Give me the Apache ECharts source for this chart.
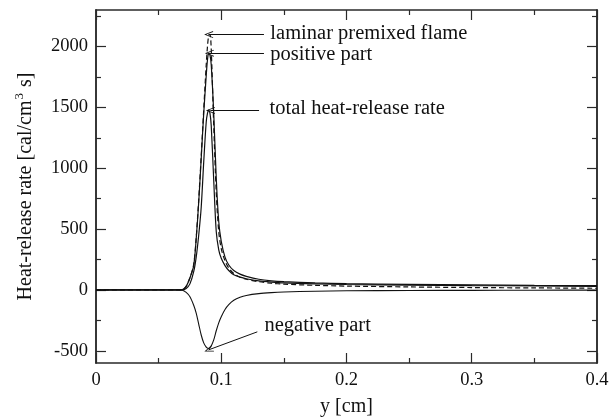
<!DOCTYPE html>
<html>
<head>
<meta charset="utf-8">
<script src="https://cdn.jsdelivr.net/npm/echarts@6/dist/echarts.min.js"></script>
<style>
  html, body { margin: 0; padding: 0; background: #fff; }
  #chart { width: 609px; height: 418px; }
</style>
</head>
<body>
<div id="chart"></div>
<script>
// Distance through the flame [cm]
const ys = [0, 0.05, 0.065, 0.069, 0.072, 0.075, 0.078, 0.080, 0.082, 0.084, 0.086, 0.088, 0.089, 0.090, 0.091,
  0.092, 0.094, 0.096, 0.098, 0.100, 0.103, 0.106, 0.110, 0.115, 0.120, 0.130, 0.140, 0.150, 0.175, 0.2, 0.25, 0.3, 0.35, 0.4];

// Heat-release rates [cal/cm^3 s]
const laminar = [0, 0, 0, 3, 30, 100, 210, 430, 740, 1100, 1480, 1850, 2000, 2090, 2100,
  1980, 1350, 800, 480, 340, 240, 180, 135, 105, 88, 68, 55, 48, 38, 32, 25, 20, 17, 14];
const positive = [0, 0, 0, 3, 30, 100, 200, 420, 720, 1080, 1450, 1760, 1890, 1945, 1930,
  1850, 1450, 920, 560, 400, 270, 205, 160, 130, 112, 88, 75, 68, 58, 52, 46, 42, 38, 35];
const total = [0, 0, 0, 1, 12, 50, 150, 270, 450, 680, 1050, 1380, 1450, 1478, 1450,
  1350, 900, 480, 330, 260, 200, 160, 125, 105, 92, 75, 65, 58, 50, 45, 40, 36, 33, 30];
const negative = [0, 0, 0, -2, -20, -55, -125, -190, -280, -370, -435, -470, -478, -482, -475,
  -460, -410, -335, -270, -220, -160, -120, -85, -60, -45, -30, -22, -17, -10, -7, -4, -3, -2, -1];

const yMajorTicks = [-500, 0, 500, 1000, 1500, 2000];
const yMinorTicks = [-250, 250, 750, 1250, 1750, 2250];

const FONT = '"Liberation Serif", "Times New Roman", serif';
const INK = '#111';
const AXIS = '#2a2a2a';

// open "<" arrow head
const ARROW = 'path://M5,0 L10,10 L8.8,10 L5,2.4 L1.2,10 L0,10 Z';

const pairs = arr => ys.map((y, i) => [y, arr[i]]);

function annotation(from, to, textAt, text) {
  return {
    markLine: {
      silent: true, animation: false,
      symbol: ['none', ARROW], symbolSize: [7, 9],
      lineStyle: { color: INK, width: 1, type: 'solid' },
      label: { show: false },
      data: [[{ coord: from }, { coord: to }]]
    },
    markPoint: {
      silent: true, animation: false,
      symbol: 'circle', symbolSize: 0,
      label: { show: true, position: 'right', distance: 0, color: INK, fontFamily: FONT, fontSize: 20.5, formatter: text },
      data: [{ coord: textAt }]
    }
  };
}

const axisLineStyle = { show: true, onZero: false, lineStyle: { color: AXIS, width: 1.5 } };

const xBase = {
  type: 'value', min: 0, max: 0.4, interval: 0.1,
  axisLine: axisLineStyle,
  axisTick: { show: true, inside: true, length: 10, lineStyle: { color: AXIS, width: 1.2 } },
  minorTick: { show: true, splitNumber: 2, length: 5, lineStyle: { color: AXIS, width: 1.2 } },
  splitLine: { show: false }
};

function yAxisDef(position, ticks, len, labels) {
  return {
    type: 'value', min: -600, max: 2300, position: position,
    axisLine: axisLineStyle,
    axisTick: { show: true, inside: true, length: len, customValues: ticks, lineStyle: { color: AXIS, width: 1.2 } },
    axisLabel: labels
      ? { show: true, customValues: ticks, margin: 8, color: INK, fontFamily: FONT, fontSize: 18.5, formatter: v => String(v) }
      : { show: false },
    splitLine: { show: false }
  };
}

const chart = echarts.init(document.getElementById('chart'), null, { renderer: 'canvas' });
chart.setOption({
  animation: false,
  backgroundColor: '#fff',
  grid: { left: 96, right: 12, top: 10, bottom: 55, containLabel: false, outerBoundsMode: 'none' },
  xAxis: [
    Object.assign({}, xBase, {
      position: 'bottom',
      axisLabel: { margin: 8, color: INK, fontFamily: FONT, fontSize: 18.5, formatter: v => (v === 0 ? '0' : (+v.toFixed(2)).toString()) },
      name: 'y [cm]', nameLocation: 'middle', nameGap: 34,
      nameTextStyle: { color: INK, fontFamily: FONT, fontSize: 20 }
    }),
    Object.assign({}, xBase, { position: 'top', axisLabel: { show: false } })
  ],
  yAxis: [
    Object.assign(yAxisDef('left', yMajorTicks, 10, true), {
      name: 'Heat-release rate [cal/cm{sup|3} s]', nameLocation: 'middle', nameGap: 58,
      nameTextStyle: {
        color: INK, fontFamily: FONT, fontSize: 20,
        rich: { sup: { color: INK, fontFamily: FONT, fontSize: 13, padding: [0, 1, 12, 1] } }
      }
    }),
    yAxisDef('left', yMinorTicks, 5, false),
    yAxisDef('right', yMajorTicks, 10, false),
    yAxisDef('right', yMinorTicks, 5, false)
  ],
  series: [
    Object.assign({
      name: 'negative part', type: 'line', data: pairs(negative), showSymbol: false, smooth: 0.3,
      lineStyle: { color: INK, width: 1.1 }
    }, annotation([0.1288, -344], [0.0899, -492], [0.1345, -292], 'negative part')),
    Object.assign({
      name: 'total heat-release rate', type: 'line', data: pairs(total), showSymbol: false, smooth: 0.3,
      lineStyle: { color: INK, width: 1.2 }
    }, annotation([0.1302, 1475], [0.0913, 1475], [0.1386, 1490], 'total heat-release rate')),
    Object.assign({
      name: 'positive part', type: 'line', data: pairs(positive), showSymbol: false, smooth: 0.3,
      lineStyle: { color: INK, width: 1.2 }
    }, annotation([0.1341, 1945], [0.0905, 1945], [0.1392, 1930], 'positive part')),
    Object.assign({
      name: 'laminar premixed flame', type: 'line', data: pairs(laminar), showSymbol: false, smooth: 0.3,
      lineStyle: { color: INK, width: 1.2, type: [5, 3] }
    }, annotation([0.1341, 2098], [0.0899, 2098], [0.1392, 2106], 'laminar premixed flame'))
  ]
});
</script>
</body>
</html>
